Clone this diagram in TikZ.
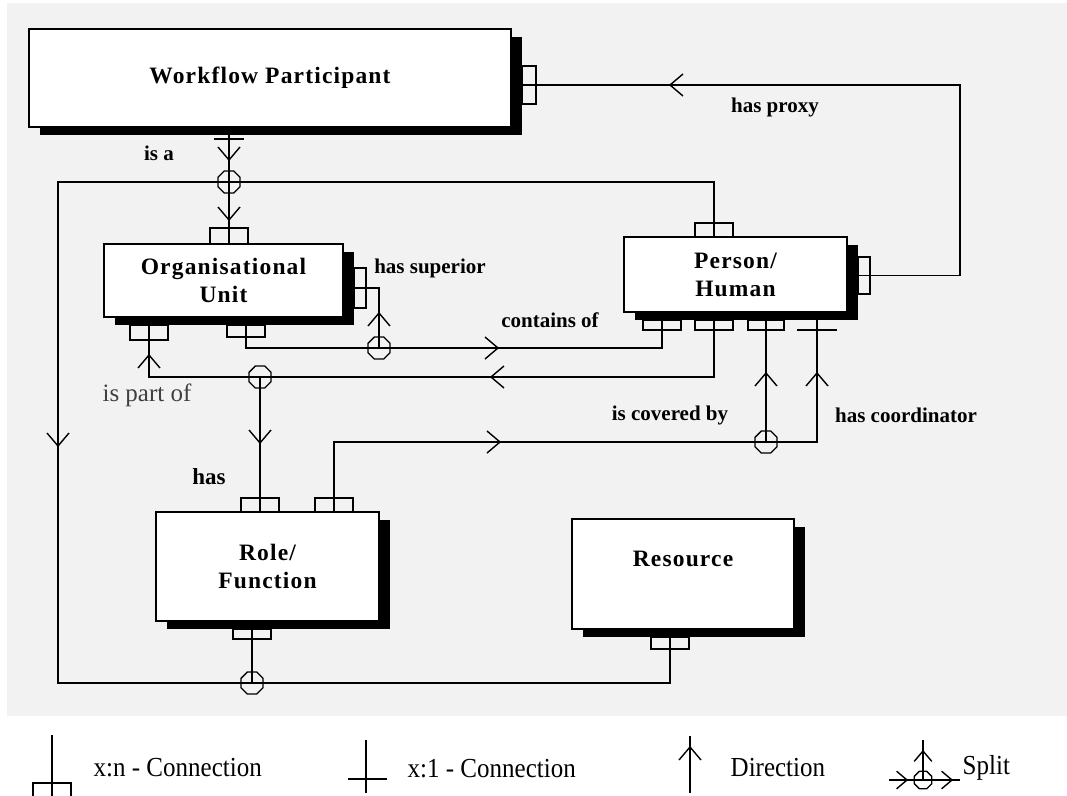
\documentclass[tikz,border=0pt]{standalone}
\usepackage{fontspec}
\setmainfont{Liberation Serif}
\usetikzlibrary{shadows,shapes.geometric}
\definecolor{panel}{HTML}{F2F2F2}
\newcommand\boxfont{\fontsize{23.5}{28}\selectfont\bfseries\addfontfeature{LetterSpace=5}}
\newcommand\relfont{\fontsize{21}{25}\selectfont\bfseries}
\newcommand\keyfont{\fontsize{25}{30}\selectfont}
\newcommand\keytext[1]{\scalebox{1}[1.1]{#1}}
\tikzstyle{entity}=[draw, fill=white, line width=1.6pt, align=center, font=\boxfont, drop shadow={opacity=1, fill=black, shadow xshift=11pt, shadow yshift=-8pt}]
\tikzstyle{port}=[draw, inner sep=0pt, line width=1.3pt]
\tikzstyle{split}=[draw, regular polygon, regular polygon sides=8, minimum size=24pt, inner sep=0pt, line width=1.3pt]
\tikzstyle{rel}=[font=\relfont]
\tikzstyle{key}=[font=\keyfont, anchor=west, inner sep=0pt]
\tikzset{chev/.pic={\draw (-13,-11) -- (0,0) -- (-13,11);}}

\begin{document}
\begin{tikzpicture}[x=1pt, y=-1pt, line width=1.4pt]
\useasboundingbox (0,0) rectangle (1067,795);
\clip (0,0) rectangle (1067,795);
% Panel
    \fill[panel] (7,3) rectangle (1067,716);
% Entities
    \node[entity, minimum width=482, minimum height=98] (wp) at (270,78) {Workflow Participant};
    \node[entity, minimum width=239, minimum height=73] (org) at (223.5,280.5) {Organisational\\Unit};
    \node[entity, minimum width=223, minimum height=75] (per) at (735.5,274.5) {Person/\\Human};
    \node[entity, minimum width=223, minimum height=109] (rol) at (267.5,566.5) {Role/\\Function};
    \node[entity, minimum width=222, minimum height=110] (res) at (683,574) {Resource\\[-6pt]\strut};
% Ports
    \node[port, minimum width=14, minimum height=38] (pwp) at (529,85) {};
    \node[port, minimum width=38, minimum height=16] (porgT) at (229,236) {};
    \node[port, minimum width=12, minimum height=40] (porgR) at (360,288) {};
    \node[port, minimum width=38, minimum height=15] (porgBL) at (149,332.5) {};
    \node[port, minimum width=38, minimum height=12] (porgBR) at (246,331) {};
    \node[port, minimum width=38, minimum height=14] (pperT) at (714,230) {};
    \node[port, minimum width=12, minimum height=37] (pperR) at (864,275.5) {};
    \node[port, minimum width=38, minimum height=10] (pperA) at (662,325) {};
    \node[port, minimum width=38, minimum height=10] (pperB) at (714,325) {};
    \node[port, minimum width=36, minimum height=10] (pperC) at (766,325) {};
    \node[port, minimum width=38, minimum height=14] (prolA) at (260,505) {};
    \node[port, minimum width=38, minimum height=14] (prolB) at (334,505) {};
    \node[port, minimum width=38, minimum height=10] (prolC) at (252,634) {};
    \node[port, minimum width=38, minimum height=12] (pres) at (670,643) {};
% Splits
    \node[split] (s1) at (229,182) {};
    \node[split] (s2) at (379,348) {};
    \node[split] (s3) at (260,377) {};
    \node[split] (s4) at (766,442) {};
    \node[split] (s5) at (252,683) {};
% Bends
    \coordinate (k1) at (58,182);
    \coordinate (k2) at (817,442);
    \coordinate (k3) at (960,85);
% is a
    \draw (wp.south -| s1) -- (porgT.south);
    \draw (214,139) -- (244,139);
    \pic[rotate=-90] at (229,160) {chev};
    \pic[rotate=-90] at (229,220) {chev};
    \draw (pperT.south) -- (pperT |- s1) -- (k1) -- (k1 |- s5) -- (pres |- s5) -- (pres.north);
    \pic[rotate=-90] at (58,446) {chev};
    \draw (prolC.north) -- (s5.center);
% has superior
    \draw (porgR.west) -- (porgR -| s2) -- (s2.center);
    \pic[rotate=90] at (379,313) {chev};
% contains of
    \draw (porgBR.north) -- (porgBR |- s2) -- (pperA |- s2) -- (pperA.north);
    \pic at (498,348) {chev};
% is part of
    \draw (pperB.north) -- (pperB |- s3) -- (porgBL |- s3) -- (porgBL.north);
    \pic[rotate=180] at (491,377) {chev};
    \pic[rotate=90] at (149,355) {chev};
% has
    \draw (s3.center) -- (prolA.south);
    \pic[rotate=-90] at (260,443) {chev};
% is covered by, has coordinator
    \draw (prolB.south) -- (prolB |- s4) -- (k2) -- (k2 |- per.south);
    \draw (797,330) -- (837,330);
    \draw (s4.center) -- (pperC.north);
    \pic at (500,442) {chev};
    \pic[rotate=90] at (766,373) {chev};
    \pic[rotate=90] at (817,373) {chev};
% has proxy
    \draw (pperR.west) -- (pperR -| k3) -- (k3) -- (pwp.west);
    \pic[rotate=180] at (670,85) {chev};
% Labels
    \node[rel] (lisa) at (159,153) {is a};
    \node[rel] (lproxy) at (775,107) {has proxy};
    \node[rel] (lsup) at (430,268) {has superior};
    \node[rel] (lcont) at (550,320) {contains of};
    \node[font=\keyfont, black!75] (lpart) at (147,395) {is part of};
    \node[rel, font=\fontsize{23}{28}\selectfont\bfseries] (lhas) at (209,477) {has};
    \node[rel] (lcov) at (670,415) {is covered by};
    \node[rel] (lcoord) at (906,415) {has coordinator};
% Key
    \draw (52,735) -- (52,800);
    \draw (33,800) -- (33,783) -- (71,783) -- (71,800);
    \node[key] (kxn) at (93,768) {\keytext{x:n - Connection}};
    \draw (366,740) -- (366,793);
    \draw (348,779) -- (387,779);
    \node[key] (kx1) at (407,769) {\keytext{x:1 - Connection}};
    \draw (690,736) -- (690,793);
    \pic[rotate=90] at (690,747) {chev};
    \node[key] (kdir) at (730,768) {\keytext{Direction}};
    \node[split, minimum size=19pt] (ksplit) at (923,780) {};
    \draw (889,780) -- (960,780);
    \draw (ksplit.center) -- (923,740);
    \pic[rotate=90, scale=.8] at (923,751) {chev};
    \pic[scale=.8] at (907,780) {chev};
    \pic[scale=.8] at (952,780) {chev};
    \node[key] (ksp) at (962,768) {\keytext{Split}};
\end{tikzpicture}
\end{document}
